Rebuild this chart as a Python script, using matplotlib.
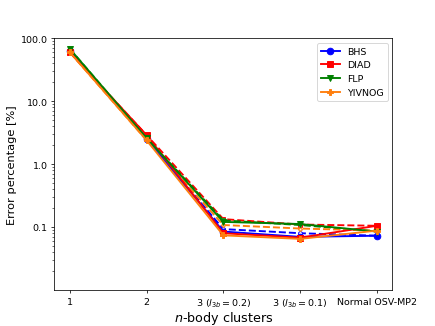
import matplotlib.pyplot as plt
from matplotlib.ticker import FormatStrFormatter

# ============================================
# Data
# ============================================

x_labels = ["1", "2", "3 ($l_{3b}=0.2$)", "3 ($l_{3b}=0.1$)", "Normal OSV-MP2"]
systems = ["BHS", "DIAD", "FLP", "YIVNOG"]
colors = ["blue", "red", "green", "#ff7f0e"]
markers = ["o", "s", "v", "P"]

# solid lines
bhs_solid = [63, 2.5, 0.085, 0.070, 0.073]
diad_solid = [60, 2.9, 0.080, 0.068, 0.105]
flp_solid = [68, 2.6, 0.121, 0.112, 0.085]
yivnog_solid = [60, 2.4, 0.074, 0.065, 0.088]

# dashed lines
bhs_dashed = [63, 2.5, 0.093, 0.080, 0.073]
diad_dashed = [60, 2.9, 0.134, 0.110, 0.105]
flp_dashed = [68, 2.6, 0.128, 0.108, 0.085]
yivnog_dashed = [60, 2.4, 0.108, 0.095, 0.088]

solid = [bhs_solid, diad_solid, flp_solid, yivnog_solid]
dashed = [bhs_dashed, diad_dashed, flp_dashed, yivnog_dashed]

# ============================================
# Plot
# ============================================

fig, ax = plt.subplots(figsize=(6.4, 4.8))
x = list(range(len(x_labels)))

# dashed first so the solid markers sit on top
for c, m, ys in zip(colors, markers, dashed):
    ax.plot(x, ys, color=c, marker=m, ls="--", lw=2, ms=4, mfc="white")

for name, c, m, ys in zip(systems, colors, markers, solid):
    ax.plot(x, ys, color=c, marker=m, lw=2, ms=7, label=name)

ax.set_yscale("log")
ax.set_ylim(0.01, 100)
ax.set_xlim(-0.2, 4.2)
ax.set_yticks([0.1, 1, 10, 100])
ax.yaxis.set_major_formatter(FormatStrFormatter("%.1f"))
ax.set_xticks(x)
ax.set_xticklabels(x_labels)

ax.set_xlabel("$n$-body clusters", fontsize=13.5, labelpad=0)
ax.set_ylabel("Error percentage [%]", fontsize=12)
ax.legend(loc="upper right")

fig.savefig("out.png", dpi=68.1)
